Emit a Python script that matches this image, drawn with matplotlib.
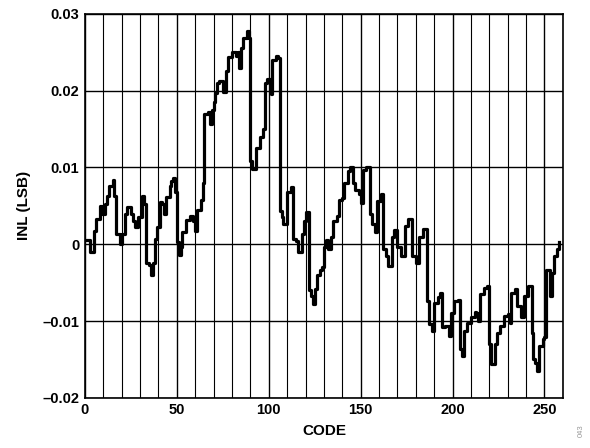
import matplotlib.pyplot as plt
from matplotlib.ticker import MultipleLocator, FuncFormatter

# INL step trace (code where each step starts, value in LSB)
codes = [0, 3, 5, 6, 8, 9, 11, 12, 13, 15, 16, 17, 19, 20, 22, 23, 25, 26, 27, 29,
         31, 32, 33, 35, 36, 37, 38, 39, 41, 42, 43, 44, 46, 47, 48, 49, 50, 51, 52, 53,
         55, 57, 59, 60, 61, 63, 64, 65, 67, 68, 69, 70, 71, 72, 73, 75, 77, 78, 80, 82,
         83, 84, 85, 86, 88, 89, 90, 91, 93, 95, 97, 98, 99, 101, 102, 104, 105, 106, 107, 108,
         110, 112, 113, 115, 116, 118, 119, 120, 122, 123, 124, 125, 126, 128, 129, 130, 131, 132, 134, 135,
         137, 138, 140, 141, 143, 144, 146, 147, 149, 150, 151, 153, 155, 156, 158, 159, 161, 162, 164, 165,
         167, 168, 170, 172, 174, 176, 178, 180, 182, 184, 186, 187, 189, 190, 192, 193, 194, 196, 198, 199,
         201, 203, 204, 205, 206, 208, 210, 212, 213, 214, 215, 217, 219, 220, 221, 223, 224, 226, 228, 230,
         231, 232, 234, 235, 237, 239, 241, 243, 244, 245, 246, 247, 249, 250, 251, 253, 254, 255, 257, 258]
inl = [0.0005, -0.0010, 0.0017, 0.0033, 0.0050, 0.0040, 0.0052, 0.0063, 0.0076, 0.0084,
       0.0063, 0.0013, 0.0000, 0.0013, 0.0040, 0.0048, 0.0040, 0.0030, 0.0022, 0.0035,
       0.0063, 0.0052, -0.0024, -0.0027, -0.0040, -0.0024, 0.0007, 0.0022, 0.0055, 0.0053,
       0.0040, 0.0062, 0.0076, 0.0083, 0.0086, 0.0068, 0.0003, -0.0014, -0.0003, 0.0016,
       0.0032, 0.0037, 0.0030, 0.0017, 0.0045, 0.0058, 0.0080, 0.0170, 0.0172, 0.0156,
       0.0175, 0.0185, 0.0197, 0.0210, 0.0213, 0.0198, 0.0225, 0.0244, 0.0250, 0.0245,
       0.0250, 0.0230, 0.0255, 0.0268, 0.0278, 0.0268, 0.0108, 0.0098, 0.0125, 0.0140,
       0.0150, 0.0210, 0.0215, 0.0196, 0.0240, 0.0245, 0.0243, 0.0043, 0.0035, 0.0026,
       0.0068, 0.0074, 0.0007, 0.0004, -0.0010, 0.0013, 0.0030, 0.0042, -0.0060, -0.0068,
       -0.0078, -0.0058, -0.0040, -0.0033, -0.0030, -0.0003, 0.0006, -0.0006, 0.0009, 0.0030,
       0.0037, 0.0058, 0.0060, 0.0080, 0.0095, 0.0100, 0.0080, 0.0070, 0.0065, 0.0054,
       0.0097, 0.0101, 0.0040, 0.0026, 0.0016, 0.0056, 0.0065, -0.0006, -0.0015, -0.0028,
       0.0010, 0.0018, -0.0003, -0.0015, 0.0024, 0.0033, -0.0015, -0.0024, 0.0010, 0.0020,
       -0.0074, -0.0104, -0.0113, -0.0076, -0.0069, -0.0064, -0.0108, -0.0107, -0.0120, -0.0089,
       -0.0074, -0.0072, -0.0137, -0.0145, -0.0113, -0.0102, -0.0095, -0.0088, -0.0089, -0.0100,
       -0.0065, -0.0057, -0.0054, -0.0130, -0.0156, -0.0130, -0.0116, -0.0107, -0.0094, -0.0091,
       -0.0102, -0.0063, -0.0058, -0.0080, -0.0095, -0.0067, -0.0054, -0.0115, -0.0150, -0.0154,
       -0.0165, -0.0133, -0.0124, -0.0121, -0.0033, -0.0067, -0.0037, -0.0015, -0.0006, 0.0003]

x_ticks = [0, 50, 100, 150, 200, 250]
y_ticks = [-0.02, -0.01, 0, 0.01, 0.02, 0.03]

plt.rcParams['font.family'] = ['Liberation Sans', 'DejaVu Sans']

fig = plt.figure(figsize=(5.9, 4.48), dpi=100)
ax = fig.add_axes([0.144, 0.112, 0.810, 0.857])

ax.step(codes, inl, where='post', color='black', linewidth=2.3, zorder=3)

ax.set_xlim(0, 260)
ax.set_ylim(-0.02, 0.03)
ax.set_xticks(x_ticks)
ax.set_yticks(y_ticks)
ax.xaxis.set_minor_locator(MultipleLocator(10))

def fmt_y(v, pos):
    if abs(v) < 1e-9:
        return '0'
    s = f'{v:.2f}'
    return s.replace('-', '\u2013')

ax.yaxis.set_major_formatter(FuncFormatter(fmt_y))

ax.grid(which='major', axis='both', color='black', linewidth=1.0)
ax.grid(which='minor', axis='x', color='black', linewidth=0.8)
ax.set_axisbelow(True)

for sp in ax.spines.values():
    sp.set_linewidth(1.2)

ax.tick_params(which='both', length=0, pad=4, labelsize=10.5)
for lab in ax.get_xticklabels() + ax.get_yticklabels():
    lab.set_fontweight('bold')

ax.set_xlabel('CODE', fontsize=11, fontweight='bold', labelpad=5)
ax.set_ylabel('INL (LSB)', fontsize=11, fontweight='bold', labelpad=8)

fig.text(0.986, 0.025, '043', rotation=90, fontsize=5.5, color='#999999',
         ha='center', va='bottom')

fig.savefig('out.png', dpi=100)
